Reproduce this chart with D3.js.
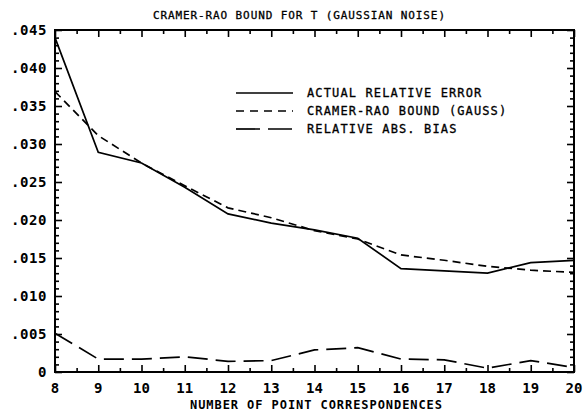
<!DOCTYPE html>
<html>
<head>
<meta charset="utf-8">
<script src="https://cdn.jsdelivr.net/npm/d3@7"></script>
<style>
  body { margin: 0; background: #fff; }
  text { font-family: "DejaVu Sans Mono", monospace; font-weight: bold; fill: #000; }
</style>
</head>
<body>
<script>
// data
var points = [8, 9, 10, 11, 12, 13, 14, 15, 16, 17, 18, 19, 20];
var actualError = [0.0440, 0.0289, 0.0275, 0.0243, 0.0208, 0.0196, 0.0187, 0.0176, 0.0136, 0.0133, 0.0130, 0.0144, 0.0147];
var cramerRao = [0.0369, 0.0311, 0.0275, 0.0245, 0.0216, 0.0203, 0.0186, 0.0175, 0.0154, 0.0147, 0.0139, 0.0134, 0.0131];
var absBias = [0.0051, 0.0017, 0.0017, 0.0020, 0.0014, 0.0015, 0.0029, 0.0032, 0.0017, 0.0016, 0.0005, 0.0015, 0.0006];
var yTicks = [0, 0.005, 0.010, 0.015, 0.020, 0.025, 0.030, 0.035, 0.040, 0.045];
var yTickLabels = ["0", ".005", ".010", ".015", ".020", ".025", ".030", ".035", ".040", ".045"];
var seriesNames = ["ACTUAL RELATIVE ERROR", "CRAMER-RAO BOUND (GAUSS)", "RELATIVE ABS. BIAS"];

var margin = { top: 30, right: 12, bottom: 41, left: 55 };
var width = 586 - margin.left - margin.right,
  height = 413 - margin.top - margin.bottom;

var x = d3.scaleLinear().domain([8, 20]).range([0, width]);
var y = d3.scaleLinear().domain([0, 0.045]).range([height, 0]);

var svg = d3
  .select("body")
  .append("svg")
  .attr("width", 586)
  .attr("height", 413)
  .append("g")
  .attr("transform", "translate(" + margin.left + "," + margin.top + ")");

// frame
svg
  .append("rect")
  .attr("width", width)
  .attr("height", height)
  .style("fill", "none")
  .style("stroke", "#000")
  .style("stroke-width", 2);

// ticks, all pointing inward
var minorX = d3.range(8.5, 20, 1);
var minorY = d3.range(0.001, 0.045, 0.001).filter(function (v) {
  return Math.abs(v / 0.005 - Math.round(v / 0.005)) > 0.01;
});

function tickAxis(axis, ticks, size) {
  axis.tickValues(ticks).tickSize(-size).tickFormat("");
  return axis;
}

svg.append("g").attr("class", "ax").attr("transform", "translate(0," + height + ")")
  .call(tickAxis(d3.axisBottom(x), points, 7));
svg.append("g").attr("class", "ax").attr("transform", "translate(0," + height + ")")
  .call(tickAxis(d3.axisBottom(x), minorX, 4));
svg.append("g").attr("class", "ax")
  .call(tickAxis(d3.axisTop(x), points, 7));
svg.append("g").attr("class", "ax")
  .call(tickAxis(d3.axisTop(x), minorX, 4));
svg.append("g").attr("class", "ax")
  .call(tickAxis(d3.axisLeft(y), yTicks, 7));
svg.append("g").attr("class", "ax")
  .call(tickAxis(d3.axisLeft(y), minorY, 4));
svg.append("g").attr("class", "ax").attr("transform", "translate(" + width + ",0)")
  .call(tickAxis(d3.axisRight(y), yTicks, 7));
svg.append("g").attr("class", "ax").attr("transform", "translate(" + width + ",0)")
  .call(tickAxis(d3.axisRight(y), minorY, 4));

svg.selectAll(".ax .domain").remove();
svg.selectAll(".ax line").style("stroke", "#000").style("stroke-width", 1.6);

// tick labels
svg
  .selectAll(".ylab")
  .data(yTicks)
  .enter()
  .append("text")
  .attr("class", "ylab")
  .attr("x", -8)
  .attr("y", function (d) { return y(d); })
  .attr("dy", "0.36em")
  .style("text-anchor", "end")
  .style("font-size", "14px")
  .style("letter-spacing", "0.6px")
  .text(function (d, i) { return yTickLabels[i]; });

svg
  .selectAll(".xlab")
  .data(points)
  .enter()
  .append("text")
  .attr("class", "xlab")
  .attr("x", function (d) { return x(d); })
  .attr("y", height + 21)
  .style("text-anchor", "middle")
  .style("font-size", "14px")
  .text(function (d) { return d; });

// titles
svg
  .append("text")
  .attr("x", 299 - margin.left)
  .attr("y", -11)
  .style("text-anchor", "middle")
  .style("font-size", "11px")
  .style("font-weight", "normal")
  .style("stroke", "#000")
  .style("stroke-width", 0.3)
  .attr("textLength", 292)
  .text("CRAMER-RAO BOUND FOR T (GAUSSIAN NOISE)");

svg
  .append("text")
  .attr("x", 316 - margin.left)
  .attr("y", height + 37)
  .style("text-anchor", "middle")
  .style("font-size", "12px")
  .attr("textLength", 252)
  .text("NUMBER OF POINT CORRESPONDENCES");

// lines
var dashes = ["none", "8,5", "20,8"];
var allSeries = [actualError, cramerRao, absBias];
var line = d3
  .line()
  .x(function (d, i) { return x(points[i]); })
  .y(function (d) { return y(d); });

svg
  .selectAll(".series")
  .data(allSeries)
  .enter()
  .append("path")
  .attr("class", "series")
  .attr("d", line)
  .style("fill", "none")
  .style("stroke", "#000")
  .style("stroke-width", 1.7)
  .style("stroke-dasharray", function (d, i) { return dashes[i]; });

// legend
var legend = svg
  .selectAll(".legend")
  .data(seriesNames)
  .enter()
  .append("g")
  .attr("class", "legend")
  .attr("transform", function (d, i) {
    return "translate(" + (236 - margin.left) + "," + (93 - margin.top + i * 18) + ")";
  });

legend
  .append("line")
  .attr("x1", 0)
  .attr("x2", 57)
  .style("stroke", "#000")
  .style("stroke-width", 1.7)
  .style("stroke-dasharray", function (d, i) { return i === 1 ? "8,6" : i === 2 ? "24,8" : "none"; });

legend
  .append("text")
  .attr("x", 71)
  .attr("dy", "0.35em")
  .style("font-size", "12px")
  .style("font-weight", "normal")
  .style("stroke", "#000")
  .style("stroke-width", 0.3)
  .attr("textLength", function (d) { return d.length * 8.3; })
  .text(function (d) { return d; });
</script>
</body>
</html>
